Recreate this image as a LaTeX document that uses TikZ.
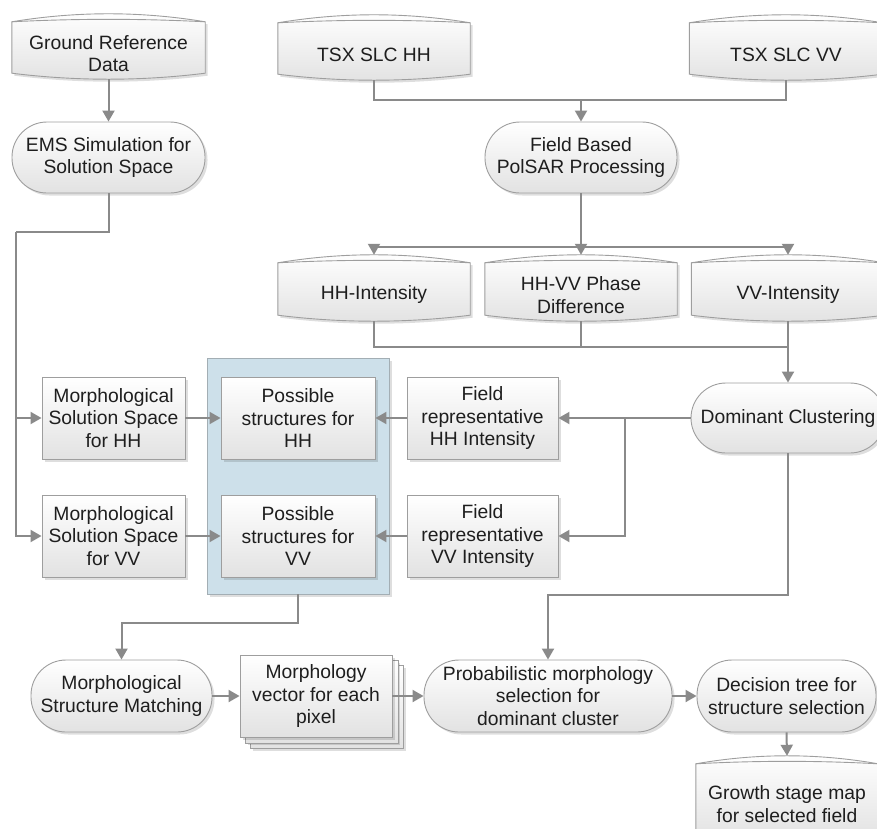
\documentclass[tikz,border=0pt]{standalone}
\usepackage{fontspec}
\setmainfont{Liberation Sans}
\usetikzlibrary{arrows.meta,shadows,calc}

\definecolor{linegray}{HTML}{8A8A8A}
\definecolor{edgegray}{HTML}{9E9E9E}
\definecolor{boxlow}{HTML}{E2E2E2}
\definecolor{panelblue}{HTML}{CDE0EA}
\definecolor{paneledge}{HTML}{A3AEB4}
\definecolor{inkgray}{HTML}{1E1E1E}

\pgfdeclarelayer{bg}
\pgfsetlayers{bg,main}

\tikzset{
  base/.style={font=\fontsize{19.3}{22.7}\selectfont, text=inkgray,
    align=center, inner sep=0pt, rectangle},
  boxshadow/.style={drop shadow={shadow xshift=2.5pt, shadow yshift=-2.5pt,
    fill=black, opacity=0.13}},
  proc/.style={base, draw=edgegray, line width=0.9pt,
    top color=white, bottom color=boxlow, boxshadow},
  term/.style={proc, rounded corners=35pt},
  datatext/.style={base},
  panel/.style={rectangle, draw=paneledge, line width=0.9pt,
    fill=panelblue, boxshadow},
  dataface/.style={draw=edgegray, line width=0.9pt, top color=white,
    bottom color=boxlow},
  conn/.style={draw=linegray, line width=2pt},
  arr/.style={conn, -{Triangle[length=11pt,width=12pt]}},
}

% outline of a stored-data shape around node #1, #2 = one third of its width
\newcommand{\cylpath}[2]{(#1.south west) -- ([yshift=12pt]#1.north west)
  .. controls +(#2,-10.7) and +(-#2,-10.7) .. ([yshift=12pt]#1.north east)
  -- (#1.south east)
  .. controls +(-#2,8) and +(#2,8) .. (#1.south west) -- cycle}

\newcommand{\datacyl}[2]{%
  \begin{pgfonlayer}{bg}
    \path[fill=black, opacity=0.13, transform canvas={shift={(2.5pt,-2.5pt)}}]
      \cylpath{#1}{#2};
    \path[dataface] \cylpath{#1}{#2};
    \draw[edgegray, line width=0.9pt] ([yshift=12pt]#1.north west)
      .. controls +(#2,-3.3) and +(-#2,-3.3) .. ([yshift=12pt]#1.north east);
  \end{pgfonlayer}
  \coordinate (#1-top) at ([yshift=20pt]#1.north);
  \coordinate (#1-bot) at ([yshift=-6pt]#1.south);
}

\begin{document}
\begin{tikzpicture}[x=1pt, y=-1pt]
\path[use as bounding box] (0,0) rectangle (877,828);

% container for the two candidate-structure boxes
\node[panel, minimum width=182, minimum height=236] (pan) at (298,476) {};

% data inputs and outputs
\node[datatext, minimum width=193, minimum height=39] (grd) at (108.5,53.5) {Ground Reference\\Data};
\node[datatext, minimum width=192, minimum height=39] (tsxhh) at (374,54.5) {TSX SLC HH};
\node[datatext, minimum width=193, minimum height=39] (tsxvv) at (786,54.5) {TSX SLC VV};
\node[datatext, minimum width=192, minimum height=40] (hhi) at (374,295) {HH-Intensity};
\node[datatext, minimum width=192, minimum height=40] (pd) at (581,295) {HH-VV Phase\\Difference};
\node[datatext, minimum width=193, minimum height=40] (vvi) at (788,295) {VV-Intensity};
\node[datatext, minimum width=182, minimum height=56] (gsm) at (787,804) {Growth stage map\\for selected field};

\datacyl{grd}{64.3}
\datacyl{tsxhh}{64}
\datacyl{tsxvv}{64.3}
\datacyl{hhi}{64}
\datacyl{pd}{64}
\datacyl{vvi}{64.3}
\datacyl{gsm}{60.7}

% processing steps
\node[term, minimum width=193, minimum height=71] (ems) at (108.5,157.5) {EMS Simulation for\\Solution Space};
\node[term, minimum width=192, minimum height=71] (fb) at (581,157.5) {Field Based\\PolSAR Processing};
\node[term, minimum width=194, minimum height=70] (dc) at (788,418) {Dominant Clustering};

\node[proc, minimum width=151, minimum height=82] (frhh) at (482.5,418) {Field\\representative\\HH Intensity};
\node[proc, minimum width=151, minimum height=82] (frvv) at (482.5,536) {Field\\representative\\VV Intensity};
\node[proc, minimum width=154, minimum height=82] (pshh) at (298,418) {Possible\\structures for\\HH};
\node[proc, minimum width=154, minimum height=82] (psvv) at (298,536) {Possible\\structures for\\VV};
\node[proc, minimum width=143, minimum height=82] (mhh) at (113.5,418) {Morphological\\Solution Space\\for HH};
\node[proc, minimum width=143, minimum height=82] (mvv) at (113.5,536) {Morphological\\Solution Space\\for VV};

\node[term, minimum width=181, minimum height=72] (msm) at (121.5,696) {Morphological\\Structure Matching};
\node[proc, minimum width=152, minimum height=82] (mv) at (316,696) {Morphology\\vector for each\\pixel};
\node[term, minimum width=248, minimum height=72] (pm) at (548,696) {Probabilistic morphology\\selection for\\dominant cluster};
\node[term, minimum width=179, minimum height=72] (dt) at (786.5,696) {Decision tree for\\structure selection};

% stacked sheets behind the morphology vector box
\begin{pgfonlayer}{bg}
  \foreach \s in {11,5.5}{
    \path[fill=black, opacity=0.13]
      ([shift={(\s pt+2.5pt,-\s pt-2.5pt)}]mv.north west) rectangle ([shift={(\s pt+2.5pt,-\s pt-2.5pt)}]mv.south east);
    \path[dataface]
      ([shift={(\s pt,-\s pt)}]mv.north west) rectangle ([shift={(\s pt,-\s pt)}]mv.south east);
  }
\end{pgfonlayer}

% junction points of the connectors
\coordinate (j1) at (581,100);
\coordinate (s1) at (581,247);
\coordinate (j2) at (788,347);
\coordinate (k1) at (625,418);
\coordinate (e1) at (16,232);

% connectors
\draw[arr] (grd-bot) -- (ems.north);
\draw[conn] (tsxvv-bot) |- (j1);
\draw[arr] (tsxhh-bot) |- (j1) -- (fb.north);

\draw[conn] (fb.south) -- (s1);
\draw[arr] (s1) -| (hhi-top);
\draw[arr] (s1) -- (pd-top);
\draw[arr] (s1) -| (vvi-top);

\draw[conn] (hhi-bot) |- (j2);
\draw[conn] (pd-bot) -- (pd-bot |- j2);
\draw[arr] (vvi-bot) -- (dc.north);

\draw[arr] (dc.west) -- (frhh.east);
\draw[arr] (k1) |- (frvv.east);
\draw[arr] (frhh.west) -- (pshh.east);
\draw[arr] (frvv.west) -- (psvv.east);

\draw[conn] (ems.south) |- (e1);
\draw[arr] (e1) |- (mhh.west);
\draw[arr] (e1) |- (mvv.west);
\draw[arr] (mhh.east) -- (pshh.west);
\draw[arr] (mvv.east) -- (psvv.west);

\draw[arr] (pan.south) -- ++(0,29) -| (msm.north);
\draw[arr] (msm.east) -- (mv.west);
\draw[arr] (mv.east) -- (pm.west);
\draw[arr] (dc.south) -- ++(0,142) -| (pm.north);
\draw[arr] (pm.east) -- (dt.west);
\draw[arr] (dt.south) -- (gsm-top);
\end{tikzpicture}
\end{document}
